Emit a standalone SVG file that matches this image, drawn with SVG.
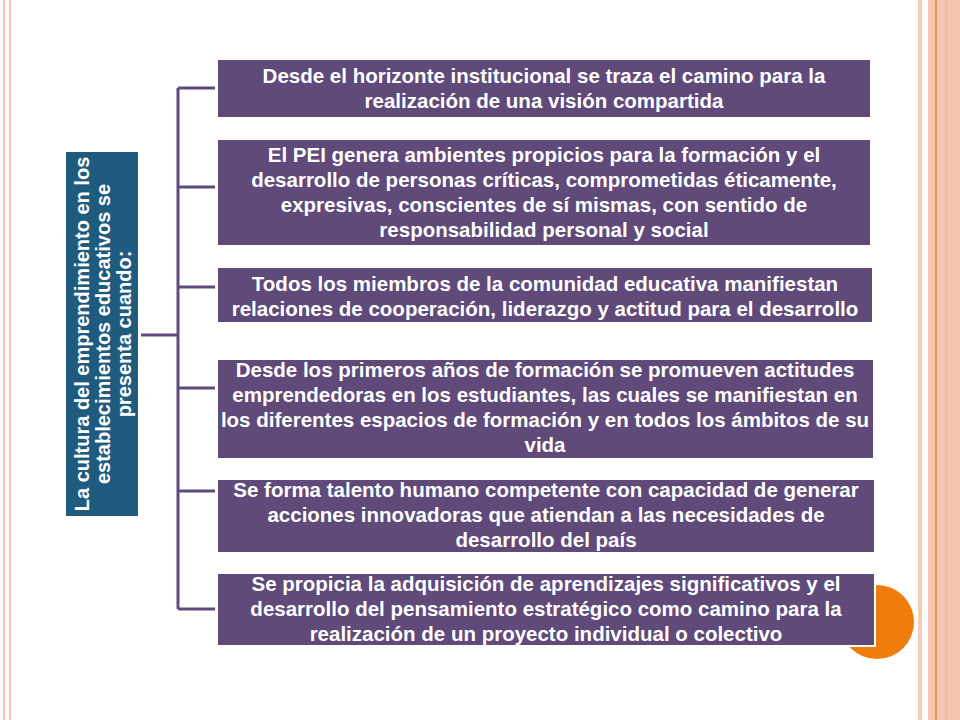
<svg xmlns="http://www.w3.org/2000/svg" width="960" height="720" viewBox="0 0 960 720">
<style>
.b{fill:#5f4a7a}
.t{font-family:"Liberation Sans",Arial,sans-serif;font-weight:bold;font-size:20.5px;fill:#fff;text-anchor:middle}
.r{font-size:20px}
.c{stroke:#5f4a7a;stroke-width:3;fill:none}
</style>
<rect width="960" height="720" fill="#fff"/>
<line x1="4" y1="0" x2="4" y2="720" stroke="#f4c4b4" stroke-width="2"/>
<line x1="10" y1="0" x2="10" y2="720" stroke="#f4c4b4" stroke-width="2"/>
<rect x="918" y="0" width="4" height="720" fill="#f6c9b8"/>
<rect x="928" y="0" width="32" height="720" fill="#f5c5b2"/>
<line x1="936" y1="0" x2="936" y2="720" stroke="#e8862e" stroke-width="1.5"/>
<line x1="946" y1="0" x2="946" y2="720" stroke="#f0b49c" stroke-width="1"/>
<circle cx="877" cy="622" r="37" fill="#ee7d0e"/>
<g id="connectors">
<path class="c" d="M141 335H178M178 88V609M178 88H215M178 187H215M178 287H215M178 388H215M178 491H215M178 609H215"/>
</g>
<g id="root">
<rect x="66" y="152" width="72" height="364" fill="#1f5b7e"/>
<g transform="translate(102 334) rotate(-90)">
<text class="t r" y="-13">La cultura del emprendimiento en los</text>
<text class="t r" y="8">establecimientos educativos se</text>
<text class="t r" y="29">presenta cuando:</text>
</g>
</g>
<g id="n1"><rect class="b" x="218" y="60" width="652" height="57"/>
<text class="t" x="544" y="83">Desde el horizonte institucional se traza el camino para la</text>
<text class="t" x="544" y="108">realización de una visión compartida</text></g>
<g id="n2"><rect class="b" x="218" y="140" width="652" height="105"/>
<text class="t" x="544" y="162">El PEI genera ambientes propicios para la formación y el</text>
<text class="t" x="544" y="187">desarrollo de personas críticas, comprometidas éticamente,</text>
<text class="t" x="544" y="212">expresivas, conscientes de sí mismas, con sentido de</text>
<text class="t" x="544" y="237">responsabilidad personal y social</text></g>
<g id="n3"><rect class="b" x="218" y="268" width="654" height="54"/>
<text class="t" x="545" y="291">Todos los miembros de la comunidad educativa manifiestan</text>
<text class="t" x="545" y="316">relaciones de cooperación, liderazgo y actitud para el desarrollo</text></g>
<g id="n4"><rect class="b" x="218" y="360" width="655" height="98"/>
<text class="t" x="545" y="377">Desde los primeros años de formación se promueven actitudes</text>
<text class="t" x="545" y="402">emprendedoras en los estudiantes, las cuales se manifiestan en</text>
<text class="t" x="545" y="427">los diferentes espacios de formación y en todos los ámbitos de su</text>
<text class="t" x="545" y="452">vida</text></g>
<g id="n5"><rect class="b" x="218" y="480" width="656" height="72"/>
<text class="t" x="546" y="497">Se forma talento humano competente con capacidad de generar</text>
<text class="t" x="546" y="522">acciones innovadoras que atiendan a las necesidades de</text>
<text class="t" x="546" y="547">desarrollo del país</text></g>
<g id="n6"><rect x="220" y="576" width="656" height="71" fill="#fff"/><rect class="b" x="218" y="574" width="656" height="71"/>
<text class="t" x="546" y="591">Se propicia la adquisición de aprendizajes significativos y el</text>
<text class="t" x="546" y="616">desarrollo del pensamiento estratégico como camino para la</text>
<text class="t" x="546" y="641">realización de un proyecto individual o colectivo</text></g>
</svg>
